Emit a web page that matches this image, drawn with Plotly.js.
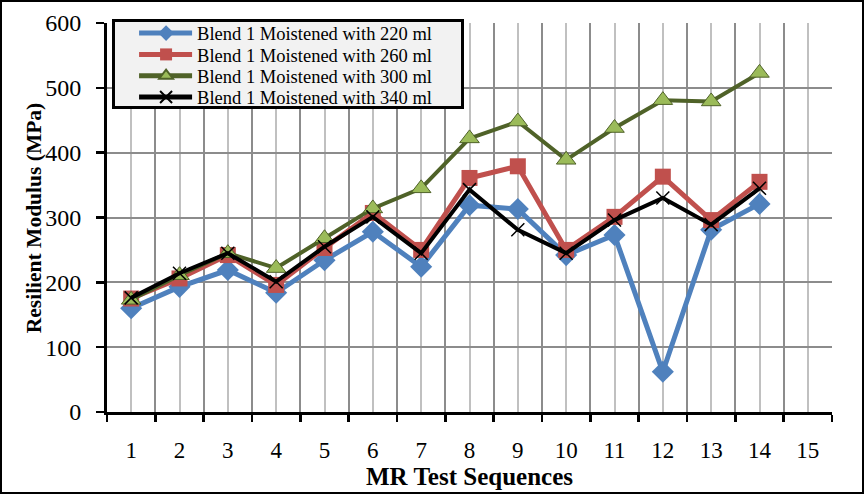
<!DOCTYPE html>
<html><head><meta charset="utf-8">
<script src="https://cdn.plot.ly/plotly-3.0.1.min.js"></script>
<style>
html,body{margin:0;padding:0;background:#fff;}
#wrap{width:864px;height:494px;box-sizing:border-box;border:2px solid #000;}
#chart{width:860px;height:490px;}
</style></head>
<body><div id="wrap"><div id="chart"></div></div>
<script>
const sequences = [1,2,3,4,5,6,7,8,9,10,11,12,13,14];
const tickLabels = ["1","2","3","4","5","6","7","8","9","10","11","12","13","14","15"];
const seriesNames = ["Blend 1 Moistened with 220 ml","Blend 1 Moistened with 260 ml","Blend 1 Moistened with 300 ml","Blend 1 Moistened with 340 ml"];
const mr220 = [160,193,219,184,234,278,224,319,313,242,273,62,281,321];
const mr260 = [175,206,242,196,253,307,250,361,379,250,301,363,296,355];
const mr300 = [173,211,245,222,268,314,345,422,448,389,438,481,479,523];
const mr340 = [176,214,245,201,255,301,245,343,281,245,296,330,289,345];

const font = "'Liberation Serif','Times New Roman',serif";
const traces = [
  {x:sequences, y:mr220, name:seriesNames[0], mode:'lines+markers',
   line:{color:'#4f81bd', width:5}, marker:{symbol:'diamond', size:17, color:'#4f81bd'}},
  {x:sequences, y:mr260, name:seriesNames[1], mode:'lines+markers',
   line:{color:'#c0504d', width:5}, marker:{symbol:'square', size:16, color:'#c0504d'}},
  {x:sequences, y:mr300, name:seriesNames[2], mode:'lines+markers',
   line:{color:'#4f6228', width:4}, marker:{symbol:'triangle-up', size:17, color:'#9bbb59', line:{color:'#4f6228', width:1}}},
  {x:sequences, y:mr340, name:seriesNames[3], mode:'lines+markers',
   line:{color:'#000000', width:4}, marker:{symbol:'x-thin', size:13, color:'#000', line:{color:'#000', width:1.5}}}
];

const layout = {
  width:860, height:490,
  margin:{l:105, r:30, t:21, b:80},
  paper_bgcolor:'#fff', plot_bgcolor:'#fff',
  font:{family:font, color:'#000', size:20},
  showlegend:true,
  legend:{x:0.007, y:1.01, xanchor:'left', yanchor:'top', bgcolor:'#f2f2f2',
          bordercolor:'#000', borderwidth:3, font:{family:font, size:18.5, color:'#000'},
          tracegroupgap:0, itemsizing:'constant'},
  xaxis:{range:[0.5,15.5], tickmode:'array', tickvals:[1,2,3,4,5,6,7,8,9,10,11,12,13,14,15], ticktext:tickLabels,
         ticks:'outside', ticklen:15, tickcolor:'rgba(0,0,0,0)',
         showgrid:true, gridcolor:'#c0c0c0', gridwidth:2,
         minor:{tickmode:'linear', tick0:0.5, dtick:1, ticks:'outside', ticklen:7, tickwidth:2.5, tickcolor:'#000',
                showgrid:true, gridcolor:'#8c8c8c', gridwidth:2},
         showline:true, linecolor:'#000', linewidth:3, zeroline:false,
         tickfont:{family:font, size:23}},
  yaxis:{range:[0,600], tickvals:[0,100,200,300,400,500,600], ticks:'outside', ticklen:8, tickwidth:2.5, tickcolor:'#000',
         showgrid:true, gridcolor:'#8c8c8c', gridwidth:2,
         showline:true, linecolor:'#000', linewidth:3, zeroline:false,
         ticklabelstandoff:10,
         tickfont:{family:font, size:24}},
  annotations:[
    {text:'<b>MR Test Sequences</b>', xref:'paper', yref:'paper', x:0.5, y:-0.166, xanchor:'center', yanchor:'middle',
     showarrow:false, font:{family:font, size:25, color:'#000'}},
    {text:'<b>Resilient Modulus (MPa)</b>', xref:'paper', yref:'paper', x:-0.101, y:0.5, xanchor:'center', yanchor:'middle',
     textangle:-90, showarrow:false, font:{family:font, size:21.5, color:'#000'}}
  ]
};
Plotly.newPlot('chart', traces, layout, {displayModeBar:false, staticPlot:true}).then(function(gd){
  try {
    const leg = gd.querySelector('g.legend');
    if (!leg) return;
    const bg = leg.querySelector('rect.bg');
    const sb = leg.querySelector('g.scrollbox');
    if (sb) sb.removeAttribute('clip-path');
    const items = leg.querySelectorAll('g.traces');
    const rowTop = 14, rowGap = 21.3;
    items.forEach(function(it, i){
      it.setAttribute('transform', 'translate(0,' + (rowTop + i*rowGap) + ')');
      it.querySelectorAll('path.js-line').forEach(function(p){ p.setAttribute('d', 'M27,0h53'); });
      it.querySelectorAll('path.scatterpts').forEach(function(p){ p.setAttribute('transform', 'translate(54,0)'); });
      const t = it.querySelector('text.legendtext');
      if (t) {
        t.setAttribute('x', 85);
        t.querySelectorAll('tspan[x]').forEach(function(s){ s.setAttribute('x', 85); });
      }
    });
    if (bg) { bg.setAttribute('width', 349); bg.setAttribute('height', 87); }
  } catch(e) {}
});
</script></body></html>
